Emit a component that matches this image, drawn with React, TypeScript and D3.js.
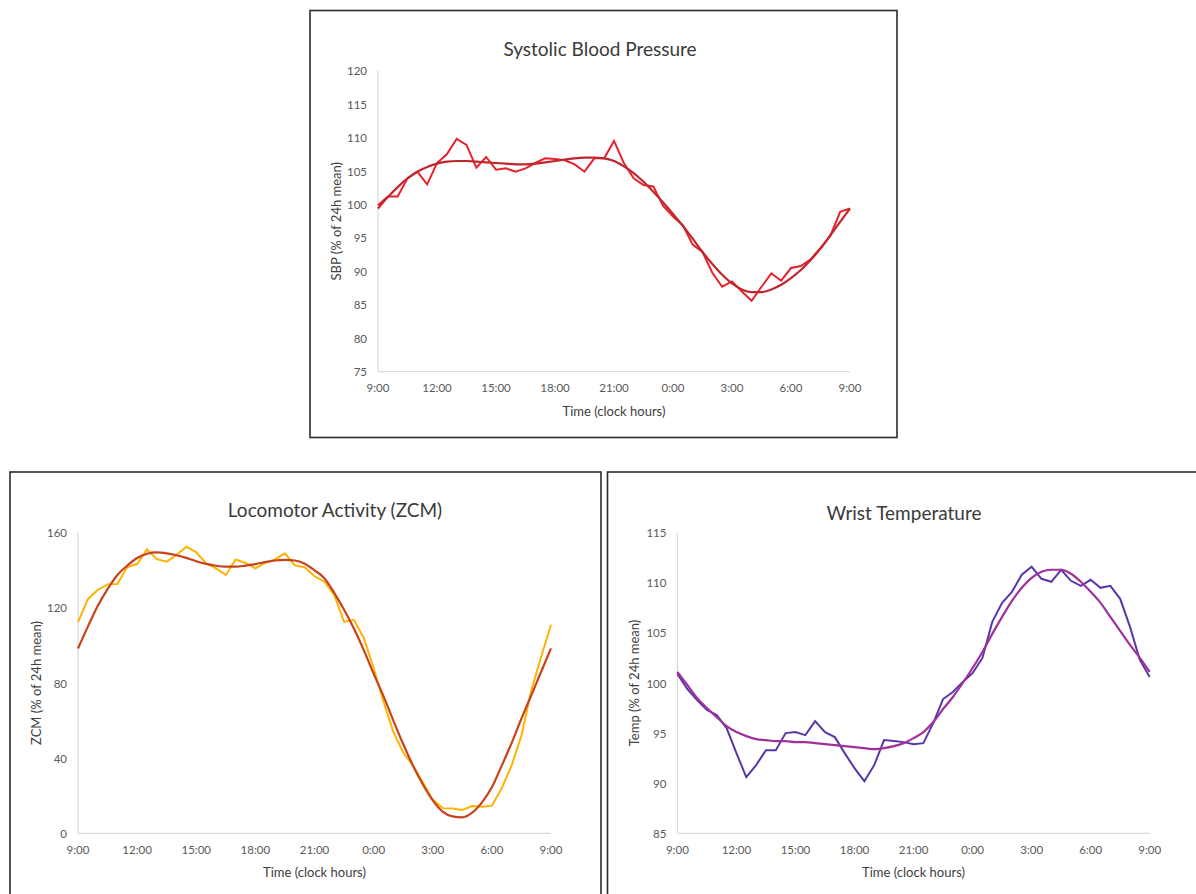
import React from 'react';
import * as d3 from 'd3';

// half-hourly samples from 9:00 to 9:00 next day (hours after 9:00)
const sampleHours = d3.range(0, 24.5, 0.5);
const xTickHours = [0, 3, 6, 9, 12, 15, 18, 21, 24];
const xTickLabels = ['9:00', '12:00', '15:00', '18:00', '21:00', '0:00', '3:00', '6:00', '9:00'];

// Systolic blood pressure (% of 24h mean)
const sbpRaw = [
  99.9, 101.2, 101.2, 103.9, 104.9, 103.0, 106.2, 107.5, 109.8, 108.9,
  105.5, 107.1, 105.2, 105.4, 104.9, 105.4, 106.2, 106.9, 106.8, 106.6,
  106.0, 104.9, 106.9, 106.9, 109.5, 106.2, 103.9, 102.9, 102.7, 99.8,
  98.2, 96.9, 94.0, 92.9, 89.8, 87.7, 88.5, 87.0, 85.6, 87.7,
  89.7, 88.6, 90.5, 90.8, 91.8, 93.5, 95.3, 98.9, 99.4,
];
const sbpFit = [
  99.4, 101.1, 102.6, 103.9, 104.9, 105.6, 106.1, 106.4, 106.5, 106.5,
  106.4, 106.3, 106.2, 106.1, 106.0, 106.0, 106.1, 106.3, 106.5, 106.7,
  106.9, 107.0, 107.0, 106.9, 106.5, 105.7, 104.7, 103.4, 101.9, 100.3,
  98.6, 96.8, 94.9, 92.9, 91.1, 89.5, 88.2, 87.3, 86.9, 86.9,
  87.3, 88.0, 89.0, 90.2, 91.7, 93.4, 95.4, 97.4, 99.4,
];
const sbpTicks = [75, 80, 85, 90, 95, 100, 105, 110, 115, 120];

// Locomotor activity (ZCM, % of 24h mean)
const zcmRaw = [
  112.4, 124.6, 129.5, 132.5, 132.7, 141.7, 143.3, 151.1, 145.9, 144.6,
  148.1, 152.5, 149.6, 143.6, 141.0, 137.5, 145.7, 143.9, 141.0, 144.0,
  145.8, 149.0, 142.6, 141.6, 136.8, 133.9, 126.9, 112.5, 113.6, 104.0,
  88.0, 70.0, 54.0, 43.0, 36.0, 27.0, 18.0, 13.4, 13.2, 12.4,
  14.5, 14.1, 14.7, 24.0, 36.0, 52.0, 76.0, 94.0, 111.0,
];
const zcmFit = [
  98.4, 110.0, 121.0, 130.0, 137.5, 142.5, 146.5, 148.8, 149.5, 149.0,
  148.0, 146.6, 144.8, 143.4, 142.4, 141.9, 141.9, 142.5, 143.3, 144.3,
  145.2, 145.5, 145.2, 143.5, 140.0, 135.8, 128.0, 119.0, 109.0, 97.5,
  85.0, 73.0, 60.0, 47.5, 36.0, 26.0, 17.5, 11.5, 9.0, 8.5,
  11.0, 16.5, 24.5, 36.0, 48.0, 61.0, 73.5, 86.0, 98.4,
];
const zcmTicks = [0, 40, 80, 120, 160];

// Wrist temperature (% of 24h mean)
const tempRaw = [
  100.9, 99.4, 98.3, 97.3, 96.8, 95.5, 93.0, 90.6, 91.8, 93.3,
  93.3, 95.0, 95.1, 94.8, 96.2, 95.1, 94.6, 93.0, 91.5, 90.2,
  91.8, 94.3, 94.2, 94.1, 93.9, 94.0, 96.0, 98.4, 99.1, 100.1,
  101.0, 102.5, 106.1, 108.0, 109.1, 110.8, 111.6, 110.4, 110.1, 111.3,
  110.2, 109.7, 110.3, 109.5, 109.7, 108.4, 105.6, 102.3, 100.6,
];
const tempFit = [
  101.1, 99.8, 98.5, 97.5, 96.6, 95.7, 95.1, 94.7, 94.4, 94.3,
  94.2, 94.2, 94.1, 94.1, 94.0, 93.9, 93.8, 93.7, 93.6, 93.5,
  93.4, 93.5, 93.7, 94.0, 94.5, 95.1, 96.1, 97.4, 98.6, 100.0,
  101.5, 103.1, 104.9, 106.6, 108.2, 109.5, 110.5, 111.1, 111.3, 111.3,
  110.9, 110.1, 109.1, 108.0, 106.6, 105.2, 103.8, 102.5, 101.1,
];
const tempTicks = [85, 90, 95, 100, 105, 110, 115];

const FONT = 'Lato, "Open Sans", sans-serif';

type PanelProps = {
  frame: { x: number; y: number; w: number; h: number };
  plot: { left: number; right: number; top: number; bottom: number };
  title: string;
  titleX: number;
  titleY: number;
  yLabel: string;
  yLabelX: number;
  yDomain: [number, number];
  yTicks: number[];
  raw: number[];
  fit: number[];
  rawColor: string;
  fitColor: string;
};

function Panel(p: PanelProps) {
  const x = d3.scaleLinear().domain([0, 24]).range([p.plot.left, p.plot.right]);
  const y = d3.scaleLinear().domain(p.yDomain).range([p.plot.bottom, p.plot.top]);

  const rawLine = d3.line<number>()
    .x((_, i) => x(sampleHours[i]))
    .y((d) => y(d));
  const fitLine = d3.line<number>()
    .x((_, i) => x(sampleHours[i]))
    .y((d) => y(d))
    .curve(d3.curveMonotoneX);

  const midX = (p.plot.left + p.plot.right) / 2;
  const midY = (p.plot.top + p.plot.bottom) / 2;

  return (
    <g>
      <rect x={p.frame.x} y={p.frame.y} width={p.frame.w} height={p.frame.h}
        fill="#fff" stroke="#2b2b2b" strokeWidth={1.6} />
      <text x={p.titleX} y={p.titleY} textAnchor="middle" dominantBaseline="central"
        fontSize={19} fill="#3a3a3a" fontFamily={FONT}>{p.title}</text>

      <line x1={p.plot.left} x2={p.plot.left} y1={p.plot.top} y2={p.plot.bottom}
        stroke="#d9d9d9" strokeWidth={1.2} />
      <line x1={p.plot.left} x2={p.plot.right} y1={p.plot.bottom} y2={p.plot.bottom}
        stroke="#d9d9d9" strokeWidth={1.2} />

      {p.yTicks.map((t) => (
        <text key={t} x={p.plot.left - 11} y={y(t)} textAnchor="end" dominantBaseline="central"
          fontSize={11.5} fill="#595959" fontFamily={FONT}>{t}</text>
      ))}
      {xTickHours.map((h, i) => (
        <text key={i} x={x(h)} y={p.plot.bottom + 16} textAnchor="middle" dominantBaseline="central"
          fontSize={11.5} fill="#595959" fontFamily={FONT}>{xTickLabels[i]}</text>
      ))}

      <text x={midX} y={p.plot.bottom + 39} textAnchor="middle" dominantBaseline="central"
        fontSize={13} fill="#404040" fontFamily={FONT}>Time (clock hours)</text>
      <text transform={`translate(${p.yLabelX},${midY}) rotate(-90)`} textAnchor="middle"
        dominantBaseline="central" fontSize={13} fill="#404040" fontFamily={FONT}>{p.yLabel}</text>

      <path d={rawLine(p.raw) || ''} fill="none" stroke={p.rawColor} strokeWidth={2}
        strokeLinejoin="miter" />
      <path d={fitLine(p.fit) || ''} fill="none" stroke={p.fitColor} strokeWidth={2.2} />
    </g>
  );
}

export default function App() {
  return (
    <svg width={1196} height={894} style={{ position: 'absolute', left: 0, top: 0, background: '#fff' }}>
      <Panel
        frame={{ x: 310, y: 10.5, w: 587, h: 427 }}
        plot={{ left: 378, right: 850, top: 70.7, bottom: 371.7 }}
        title="Systolic Blood Pressure" titleX={600} titleY={48}
        yLabel="SBP (% of 24h mean)" yLabelX={336}
        yDomain={[75, 120]} yTicks={sbpTicks}
        raw={sbpRaw} fit={sbpFit} rawColor="#e8222c" fitColor="#c0262d"
      />
      <Panel
        frame={{ x: 10, y: 472, w: 591, h: 440 }}
        plot={{ left: 78, right: 551, top: 532.7, bottom: 833.3 }}
        title="Locomotor Activity (ZCM)" titleX={335} titleY={509}
        yLabel="ZCM (% of 24h mean)" yLabelX={36}
        yDomain={[0, 160]} yTicks={zcmTicks}
        raw={zcmRaw} fit={zcmFit} rawColor="#ffb300" fitColor="#c8421a"
      />
      <Panel
        frame={{ x: 607.5, y: 472, w: 600, h: 440 }}
        plot={{ left: 677.4, right: 1149.7, top: 532.7, bottom: 833.3 }}
        title="Wrist Temperature" titleX={904} titleY={512}
        yLabel="Temp (% of 24h mean)" yLabelX={634}
        yDomain={[85, 115]} yTicks={tempTicks}
        raw={tempRaw} fit={tempFit} rawColor="#5a37a8" fitColor="#a0309a"
      />
    </svg>
  );
}
